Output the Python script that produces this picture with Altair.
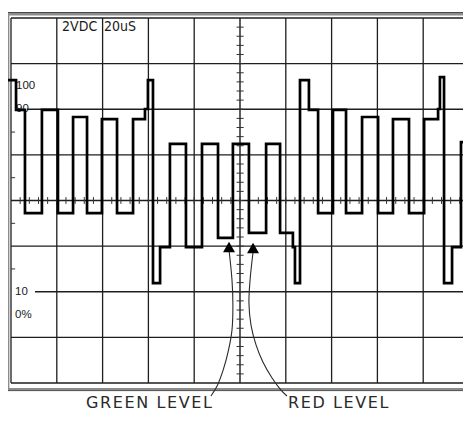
import altair as alt
import pandas as pd

# ---- scope settings (graticule: 10 x 8 divisions, 20 us/div, 2 V/div) ----
time_ticks = [0, 20, 40, 60, 80, 100, 120, 140, 160, 180, 200]
volt_ticks = [-8, -6, -4, -2, 0, 2, 4, 6, 8]

# ---- trace: time (us) of each transition and the level (V) held from it ----
trace_t = [-1.3, 2.2, 6.1, 13.5, 20.5, 27.1, 33.2, 39.7, 46.3, 53.3,
           58.5, 59.8, 62.0, 65.1, 69.4, 76.4, 83.4, 90.4, 96.9, 103.9,
           111.4, 117.5, 123.1, 124.0, 126.2, 130.1, 134.1, 140.6, 146.3, 153.3,
           160.3, 166.8, 173.8, 180.4, 186.5, 187.3, 189.1, 192.6, 196.5, 200.4]
trace_v = [5.28, 3.97, -0.55, 3.97, -0.55, 3.66, -0.55, 3.57, -0.55, 3.57,
           4.01, 5.28, -3.62, -2.04, 2.48, -2.04, 2.48, -1.64, 2.48, -1.42,
           2.48, -1.42, -2.04, -3.62, 5.28, 3.97, -0.55, 3.97, -0.55, 3.66,
           -0.55, 3.57, -0.55, 3.57, 4.01, 5.41, -3.62, -2.04, 2.56, 2.56]

# ---- annotation arrows (GREEN LEVEL / RED LEVEL) ----
green_t = [95.2, 96.5, 96.9, 96.5, 94.8, 92.6, 90.0, 87.3]
green_v = [-2.17, -3.48, -4.58, -5.68, -6.64, -7.45, -8.13, -8.57]
red_t = [105.7, 104.4, 103.9, 104.8, 107.0, 110.0, 114.0, 117.9, 120.5]
red_v = [-2.26, -3.48, -4.49, -5.46, -6.33, -7.08, -7.78, -8.31, -8.57]
head_t = [95.2, 105.7]
head_v = [-2.04, -2.08]

# ---- labels ----
top_labels = ["2VDC", "20uS"]
top_t = [22.3, 40.6]
top_v = [7.45, 7.45]
pct_labels = ["100", "90", "10", "0%"]
pct_t = [2.2, 2.2, 1.8, 1.8]
pct_v = [5.0, 4.0, -4.0, -5.0]
bottom_labels = ["GREEN LEVEL", "RED LEVEL"]
bottom_t = [32.8, 121.0]
bottom_v = [-9.08, -9.08]

# ---------------------------------------------------------------------------
xs = alt.Scale(domain=[0, 200], range=[0, 458], nice=False, zero=False)
ys = alt.Scale(domain=[-8, 8], nice=False, zero=False)

# graticule segments
grid_rows = []
for t in time_ticks:
    grid_rows.append(dict(x1=t, x2=t, y1=-8, y2=8))
for v in volt_ticks:
    start = 0
    if v == 4:
        start = 7.0
    if v == -4:
        start = 10.5
    grid_rows.append(dict(x1=start, x2=200, y1=v, y2=v))
grid_df = pd.DataFrame(grid_rows)

tick_rows = []
for i in range(-19, 20):
    v = i * 0.4
    tick_rows.append(dict(x1=98.5, x2=101.6, y1=v, y2=v))
for i in range(1, 50):
    t = i * 4
    tick_rows.append(dict(x1=t, x2=t, y1=-0.15, y2=0.15))
for v in [-3, -1, 1, 3]:
    tick_rows.append(dict(x1=0, x2=1.8, y1=v, y2=v))
tick_df = pd.DataFrame(tick_rows)

center_df = pd.DataFrame([dict(x1=100, x2=100, y1=-8, y2=8),
                          dict(x1=0, x2=200, y1=0, y2=0)])


def seg_layer(df, color, width, opacity=1.0):
    return alt.Chart(df).mark_rule(color=color, strokeWidth=width, opacity=opacity).encode(
        x=alt.X("x1:Q", scale=xs, axis=None),
        x2="x2:Q",
        y=alt.Y("y1:Q", scale=ys, axis=None),
        y2="y2:Q",
    )


center = seg_layer(center_df, "#9a9a9a", 0.8)
grid = seg_layer(grid_df, "#1e1e1e", 1.3)
ticks = seg_layer(tick_df, "#333333", 1.0)

trace_df = pd.DataFrame({"t": trace_t, "v": trace_v, "i": list(range(len(trace_t)))})
trace = alt.Chart(trace_df).mark_line(
    interpolate="step-after", color="black", strokeWidth=2.7,
    strokeJoin="miter", strokeCap="square"
).encode(
    x=alt.X("t:Q", scale=xs, axis=None),
    y=alt.Y("v:Q", scale=ys, axis=None),
    order="i:Q",
)

arrow_df = pd.DataFrame({
    "t": green_t + red_t,
    "v": green_v + red_v,
    "k": ["green"] * len(green_t) + ["red"] * len(red_t),
    "i": list(range(len(green_t))) + list(range(len(red_t))),
})
arrows = alt.Chart(arrow_df).mark_line(
    interpolate="catmull-rom", color="#2a2a2a", strokeWidth=1.1
).encode(
    x=alt.X("t:Q", scale=xs, axis=None),
    y=alt.Y("v:Q", scale=ys, axis=None),
    detail="k:N",
    order="i:Q",
)

heads = alt.Chart(pd.DataFrame({"t": head_t, "v": head_v})).mark_point(
    shape="triangle-up", filled=True, size=144, color="black", opacity=1
).encode(
    x=alt.X("t:Q", scale=xs, axis=None),
    y=alt.Y("v:Q", scale=ys, axis=None),
)


def text_layer(labels, ts, vs, size, font, baseline, color="#1a1a1a"):
    df = pd.DataFrame({"label": labels, "t": ts, "v": vs})
    return alt.Chart(df).mark_text(
        align="left", baseline=baseline, fontSize=size, font=font, color=color
    ).encode(
        x=alt.X("t:Q", scale=xs, axis=None),
        y=alt.Y("v:Q", scale=ys, axis=None),
        text="label:N",
    )


top_text = text_layer(top_labels, top_t, top_v, 14,
                      "Liberation Sans Narrow, DejaVu Sans Condensed, Liberation Sans",
                      "alphabetic")
pct_text = text_layer(pct_labels, pct_t, pct_v, 11.5, "Liberation Sans", "middle")
spaced = ["\u200a".join(s) for s in bottom_labels]
bottom_text = text_layer(spaced, bottom_t, bottom_v, 16, "DejaVu Sans", "alphabetic",
                         color="#2a2a2a")

one = pd.DataFrame({"a": [0]})


def frame_rule(color, width, **enc):
    return alt.Chart(one).mark_rule(color=color, strokeWidth=width).encode(**enc)


frame = [
    frame_rule("#8c8c8c", 2.5, x=alt.value(-4), x2=alt.value(463), y=alt.value(-3.75)),
    frame_rule("#4a4a4a", 1.0, x=alt.value(-4), x2=alt.value(463), y=alt.value(-5.5)),
    frame_rule("#8c8c8c", 2.0, x=alt.value(-2.6), y=alt.value(-5), y2=alt.value(373)),
    frame_rule("#8c8c8c", 2.2, x=alt.value(-4), x2=alt.value(463), y=alt.value(371)),
    frame_rule("#4a4a4a", 1.0, x=alt.value(-4), x2=alt.value(463), y=alt.value(372.6)),
]

chart = alt.layer(
    *frame, center, grid, ticks, top_text, pct_text, trace, arrows, heads, bottom_text
).properties(
    width=452,
    height=365,
    padding={"left": 3, "top": 10, "right": 0, "bottom": 30},
    autosize=alt.AutoSizeParams(type="none"),
    background="white",
).configure_view(stroke=None)

chart.save("out.html", embed_options={"renderer": "svg", "actions": False})
